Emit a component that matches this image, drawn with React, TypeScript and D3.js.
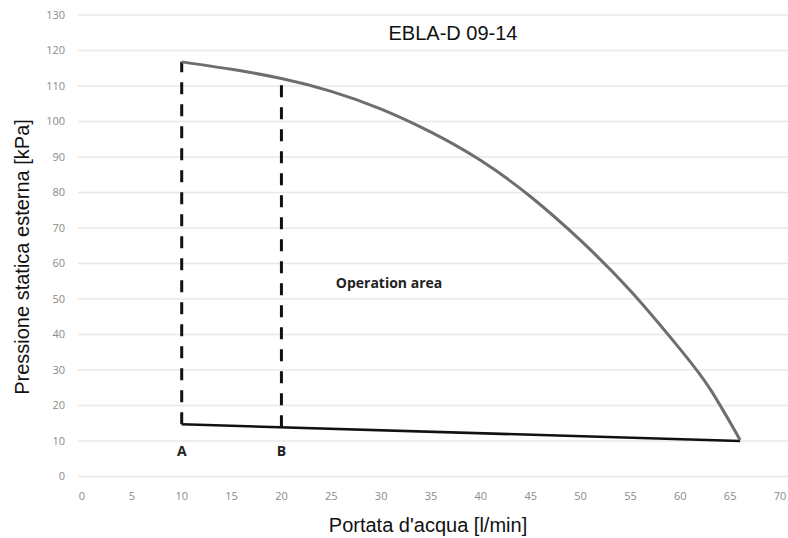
import React from "react";
import * as d3 from "d3";

const title = "EBLA-D 09-14";
const xTitle = "Portata d'acqua [l/min]";
const yTitle = "Pressione statica esterna [kPa]";
const areaLabel = "Operation area";

const xTicks = [0, 5, 10, 15, 20, 25, 30, 35, 40, 45, 50, 55, 60, 65, 70];
const yTicks = [0, 10, 20, 30, 40, 50, 60, 70, 80, 90, 100, 110, 120, 130];

// max curve
const curveFlow = [10, 15, 20, 25, 30, 35, 40, 45, 50, 55, 60, 63, 66];
const curvePressure = [116.8, 114.7, 112.1, 108.5, 103.5, 97, 89, 78.8, 66.5, 52.3, 35.8, 24.6, 10.3];

// min line
const minFlow = [10, 66];
const minPressure = [14.7, 10];

// operating limits
const markerNames = ["A", "B"];
const markerFlows = [10, 20];

const W = 788;
const H = 538;

export default function App() {
  const x = d3.scaleLinear().domain([0, 70]).range([82, 780]);
  const y = d3.scaleLinear().domain([0, 130]).range([476.5, 15]);

  const curvePts: [number, number][] = curveFlow.map((f, i) => [f, curvePressure[i]]);
  const minPts: [number, number][] = minFlow.map((f, i) => [f, minPressure[i]]);

  const curveLine = d3
    .line<[number, number]>()
    .x((d) => x(d[0]))
    .y((d) => y(d[1]))
    .curve(d3.curveNatural);
  const straight = d3
    .line<[number, number]>()
    .x((d) => x(d[0]))
    .y((d) => y(d[1]));

  const topAt = d3.scaleLinear().domain(curveFlow).range(curvePressure);
  const botAt = d3.scaleLinear().domain(minFlow).range(minPressure);

  const tickFont = "'Open Sans', sans-serif";
  const titleFont = "'Liberation Sans', Arial, sans-serif";

  return (
    <div style={{ position: "fixed", left: 0, top: 0 }}>
      <svg width={W} height={H} style={{ display: "block", background: "#fff" }}>
        {yTicks.map((t) => (
          <g key={"y" + t}>
            <line x1={78} x2={788} y1={y(t)} y2={y(t)} stroke="#e8e8e8" strokeWidth={1.6} />
            <text
              x={65}
              y={y(t)}
              dy="0.35em"
              textAnchor="end"
              fontFamily={tickFont}
              fontSize={11}
              fill="#8a8a8a"
            >
              {t}
            </text>
          </g>
        ))}
        {xTicks.map((t) => (
          <text
            key={"x" + t}
            x={x(t)}
            y={496}
            dy="0.35em"
            textAnchor="middle"
            fontFamily={tickFont}
            fontSize={11}
            fill="#8a8a8a"
          >
            {t}
          </text>
        ))}

        {markerFlows.map((f, i) => (
          <g key={"m" + i}>
            <line
              x1={x(f)}
              x2={x(f)}
              y1={y(botAt(f))}
              y2={y(topAt(f))}
              stroke="#111"
              strokeWidth={3}
              strokeDasharray="12 10"
            />
            <text
              x={x(f)}
              y={451}
              dy="0.35em"
              textAnchor="middle"
              fontFamily={tickFont}
              fontWeight={700}
              fontSize={14}
              fill="#222"
            >
              {markerNames[i]}
            </text>
          </g>
        ))}

        <path d={straight(minPts) || ""} fill="none" stroke="#111" strokeWidth={2.6} />
        <path d={curveLine(curvePts) || ""} fill="none" stroke="#6e6e6e" strokeWidth={3} />

        <text
          x={389}
          y={283}
          dy="0.35em"
          textAnchor="middle"
          fontFamily={tickFont}
          fontWeight={700}
          fontSize={14}
          fill="#222"
        >
          {areaLabel}
        </text>

        <text
          x={453}
          y={33}
          dy="0.35em"
          textAnchor="middle"
          fontFamily={titleFont}
          fontSize={20}
          fill="#111"
        >
          {title}
        </text>
        <text
          x={428}
          y={532}
          textAnchor="middle"
          fontFamily={titleFont}
          fontSize={20}
          fill="#111"
        >
          {xTitle}
        </text>
        <text
          transform={`translate(29, 257) rotate(-90)`}
          textAnchor="middle"
          fontFamily={titleFont}
          fontSize={20}
          fill="#111"
        >
          {yTitle}
        </text>
      </svg>
    </div>
  );
}
